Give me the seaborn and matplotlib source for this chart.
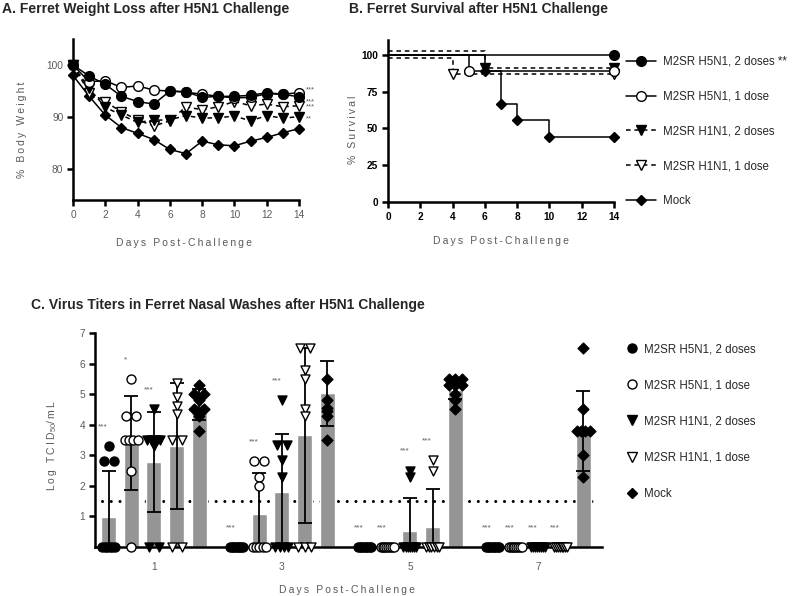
import numpy as np
import pandas as pd
import matplotlib
matplotlib.use('Agg')
import matplotlib.pyplot as plt
import matplotlib.transforms as mtransforms
from matplotlib.lines import Line2D
import seaborn as sns
import warnings
warnings.filterwarnings('ignore')

sns.set_theme(style='ticks')
plt.rcParams['font.family'] = ['Liberation Sans', 'DejaVu Sans']
plt.rcParams['mathtext.fontset'] = 'custom'
plt.rcParams['mathtext.rm'] = 'Liberation Sans'
plt.rcParams['mathtext.it'] = 'Liberation Sans:italic'

# ---- data -------------------------------------------------------------
groups = ['M2SR H5N1, 2 doses', 'M2SR H5N1, 1 dose', 'M2SR H1N1, 2 doses',
          'M2SR H1N1, 1 dose', 'Mock']

# A. body weight (%)
weight_days = [0, 1, 2, 3, 4, 5, 6, 7, 8, 9, 10, 11, 12, 13, 14]
weight_h5_2 = [100, 97.9, 96.3, 94.0, 93.0, 92.5, 95.0, 94.9, 93.8, 94.0, 94.0, 94.2, 94.7, 94.4, 93.9]
weight_h5_1 = [100, 96.8, 97.0, 95.7, 96.0, 95.2, 95.0, 94.8, 94.4, 94.0, 93.7, 93.8, 94.5, 94.4, 94.7]
weight_h1_2 = [100, 95.5, 91.9, 90.4, 89.0, 89.4, 89.5, 90.3, 89.8, 89.9, 90.2, 89.3, 90.3, 89.8, 90.1]
weight_h1_1 = [100, 94.7, 93.0, 91.0, 89.5, 88.3, 89.3, 92.0, 91.4, 92.0, 93.0, 92.2, 92.5, 92.0, 92.2]
weight_mock = [98.0, 94.0, 90.4, 88.0, 86.9, 85.7, 83.8, 83.0, 85.4, 84.7, 84.5, 85.4, 86.1, 87.0, 87.8]
weight_stars = ['***', '***', '**', '***', '']

# B. survival (%), Kaplan-Meier steps
surv_days_h5_2 = [0, 14]
surv_h5_2 = [100, 100]
surv_days_h5_1 = [0, 5, 14]
surv_h5_1 = [100, 88.9, 88.9]
surv_days_h1_2 = [0, 6, 14]
surv_h1_2 = [100, 88.9, 88.9]
surv_days_h1_1 = [0, 4, 14]
surv_h1_1 = [100, 88.9, 88.9]
surv_days_mock = [0, 6, 7, 8, 10, 14]
surv_mock = [100, 88.9, 66.7, 55.6, 44.4, 44.4]

# C. nasal wash titers (log TCID50/mL) on days 1, 3, 5, 7
titer_days = ['1', '3', '5', '7']
titer_h5_2 = [[3.3, 2.8, 2.8, 0, 0, 0, 0, 0, 0],
              [0, 0, 0, 0, 0, 0, 0, 0, 0],
              [0, 0, 0, 0, 0, 0, 0, 0, 0],
              [0, 0, 0, 0, 0, 0, 0, 0, 0]]
titer_h5_1 = [[5.5, 4.3, 4.3, 3.5, 3.5, 3.5, 3.5, 2.5, 0],
              [2.8, 2.8, 2.3, 2.0, 0, 0, 0, 0, 0],
              [0, 0, 0, 0, 0, 0, 0, 0],
              [0, 0, 0, 0, 0, 0, 0, 0]]
titer_h1_2 = [[4.5, 3.5, 3.5, 3.5, 3.5, 3.5, 3.3, 0, 0],
              [4.8, 3.35, 3.35, 2.85, 2.3, 0, 0, 0, 0],
              [2.5, 2.3, 0, 0, 0, 0, 0, 0, 0],
              [0, 0, 0, 0, 0, 0, 0, 0]]
titer_h1_1 = [[5.35, 4.9, 4.6, 4.35, 3.5, 3.5, 0, 0],
              [6.5, 6.5, 5.8, 5.5, 4.5, 4.3, 0, 0, 0],
              [2.85, 2.5, 0, 0, 0, 0, 0, 0],
              [0, 0, 0, 0, 0, 0, 0, 0]]
titer_mock = [[5.3, 5.0, 5.0, 4.8, 4.5, 4.5, 4.3, 3.8],
              [5.5, 4.8, 4.55, 4.45, 4.3, 3.5],
              [5.5, 5.5, 5.5, 5.3, 5.3, 5.3, 5.0, 4.8, 4.5],
              [6.5, 4.5, 3.8, 3.8, 3.8, 3.8, 3.0, 2.3]]
# bar heights (mean) and error bars (SD) as drawn
titer_mean = [[0.97, 0, 0, 0], [3.4, 1.08, 0, 0], [2.79, 1.81, 0.52, 0],
              [3.3, 3.66, 0.66, 0], [4.67, 5.03, 5.15, 3.8]]
titer_sd = [[1.5, 0, 0, 0], [1.53, 1.33, 0, 0], [1.63, 1.88, 1.07, 0],
            [2.05, 2.86, 1.25, 0], [0.5, 1.07, 0.3, 1.3]]
titer_stars = [['***', '***', '***', '***'], ['*', '***', '***', '***'],
               ['***', '***', '***', '***'], ['', '', '***', '***'],
               ['', '', '', '']]
detection_limit = 1.5

# ---- styles -------------------------------------------------------------
mk = ['o', 'o', 'v', 'v', 'D']
face = ['black', 'white', 'black', 'white', 'black']
dash = (0, (3, 2.5))
lstyle = ['-', '-', dash, dash, '-']
msA = [7, 7, 7.5, 7.5, 5]
star_nudgeA = [-3.5, 2.0, -1.5, -1.0, 0]
grey = '#5a5a5a'
SP = '\u2009'


def spaced(s):
    return SP.join(s)


def style_axis(ax, labelcolor):
    sns.despine(ax=ax)
    for side in ['left', 'bottom']:
        ax.spines[side].set_linewidth(1.8)
        ax.spines[side].set_color('black')
    ax.tick_params(direction='out', length=4, width=1.8, color='black',
                   labelsize=7.3, labelcolor=labelcolor, pad=3)


fig = plt.figure(figsize=(8, 5.96), dpi=100)

# ---- A. weight ---------------------------------------------------------
axA = fig.add_axes([73 / 800, 1 - 200 / 596, 226 / 800, 161 / 596])
weights = [weight_h5_2, weight_h5_1, weight_h1_2, weight_h1_1, weight_mock]
for i in [4, 3, 2, 1, 0]:
    sns.lineplot(x=weight_days, y=weights[i], ax=axA, color='black', lw=1.1,
                 linestyle=lstyle[i], marker=mk[i], markersize=msA[i],
                 markerfacecolor=face[i], markeredgecolor='black',
                 markeredgewidth=1.0, errorbar=None, clip_on=False)
for i, star in enumerate(weight_stars):
    if star:
        axA.annotate(star, (weight_days[-1], weights[i][-1]), xytext=(5, star_nudgeA[i]),
                     textcoords='offset points', ha='left', va='center',
                     fontsize=5.5, color=grey, annotation_clip=False)
axA.set_xlim(0, 14)
axA.set_ylim(74.1, 105)
axA.set_xticks(range(0, 15, 2))
axA.set_yticks([80, 90, 100])
style_axis(axA, grey)
axA.set_xlabel(spaced('Days Post-Challenge'), fontsize=7.5, color=grey)
axA.set_ylabel(spaced('% Body Weight'), fontsize=7.5, color=grey)
axA.xaxis.set_label_coords(0.493, -0.236)
axA.yaxis.set_label_coords(-0.204, 0.435)

# ---- B. survival -------------------------------------------------------
axB = fig.add_axes([388 / 800, 1 - 202 / 596, 226 / 800, 162 / 596])
surv_days = [surv_days_h5_2, surv_days_h5_1, surv_days_h1_2, surv_days_h1_1, surv_days_mock]
survs = [surv_h5_2, surv_h5_1, surv_h1_2, surv_h1_1, surv_mock]
nudge = [0, 0, 2.4, -2.4, 0]
for i in [4, 3, 2, 1, 0]:
    sns.lineplot(x=surv_days[i], y=survs[i], ax=axB, color='black', lw=1.1,
                 linestyle=lstyle[i], drawstyle='steps-post',
                 marker=mk[i], markersize=msA[i], markevery=slice(1, None),
                 markerfacecolor=face[i], markeredgecolor='black',
                 markeredgewidth=1.0, errorbar=None, clip_on=False)
    if nudge[i]:
        axB.lines[-1].set_transform(
            axB.transData + mtransforms.ScaledTranslation(0, nudge[i] / 72, fig.dpi_scale_trans))
axB.set_xlim(0, 14)
axB.set_ylim(0, 110)
axB.set_xticks(range(0, 15, 2))
axB.set_yticks([0, 25, 50, 75, 100])
style_axis(axB, 'black')
for lab in axB.get_xticklabels() + axB.get_yticklabels():
    lab.set_fontweight('bold')
axB.set_xlabel(spaced('Days Post-Challenge'), fontsize=7.5, color=grey)
axB.set_ylabel(spaced('% Survival'), fontsize=7.5, color=grey)
axB.xaxis.set_label_coords(0.5, -0.21)
axB.yaxis.set_label_coords(-0.133, 0.444)

legB = [Line2D([], [], color='black', lw=1.1, linestyle=lstyle[i], marker=mk[i],
               markersize=msA[i], markerfacecolor=face[i], markeredgecolor='black')
        for i in range(5)]
labelsB = [groups[0] + ' **'] + groups[1:]
fig.legend(legB, labelsB, loc='upper left', bbox_to_anchor=(626 / 800, 1 - 56 / 596),
           frameon=False, fontsize=8.3, handlelength=2.6, handletextpad=0.65,
           labelspacing=1.97, borderpad=0, borderaxespad=0)

# ---- C. titers ---------------------------------------------------------
axC = fig.add_axes([95 / 800, 1 - 547 / 596, 507 / 800, 214 / 596])
titers = [titer_h5_2, titer_h5_1, titer_h1_2, titer_h1_1, titer_mock]
bars = pd.DataFrame([(titer_days[j], groups[i], titer_mean[i][j])
                     for i in range(5) for j in range(4)],
                    columns=['day', 'group', 'mean'])
axC.axhline(detection_limit, xmin=0.013, xmax=0.984, color='black', lw=2.2,
            linestyle=(0, (0.01, 2.85)), dash_capstyle='round', zorder=0.5)
sns.barplot(data=bars, x='day', y='mean', hue='group', order=titer_days,
            hue_order=groups, palette=['#959595'] * 5, saturation=1,
            width=0.885, gap=0.34, errorbar=None, legend=False, ax=axC, zorder=1)

# bar centres from the containers seaborn drew
centres = {}
for i, cont in enumerate(axC.containers):
    for bar in cont:
        cx = bar.get_x() + bar.get_width() / 2
        centres[(i, int(round(cx)))] = cx


def spread(vals, step=0.078, half=0.051):
    vals = np.asarray(vals, float)
    offs = np.zeros(len(vals))
    for v in np.unique(vals):
        idx = np.where(vals == v)[0]
        k = len(idx)
        if k > 1:
            st = min(step, 2 * half / (k - 1))
            offs[idx] = (np.arange(k) - (k - 1) / 2) * st
    return offs


for i in range(5):
    for j in range(4):
        cx = centres[(i, j)]
        if titer_sd[i][j] > 0:
            axC.errorbar(cx, titer_mean[i][j], yerr=titer_sd[i][j], fmt='none',
                         ecolor='black', elinewidth=1.3, capsize=5, capthick=1.3, zorder=3)
        vals = titers[i][j]
        sns.scatterplot(x=cx + spread(vals), y=vals, ax=axC, marker=mk[i],
                        color=face[i], edgecolor='black', linewidth=1.0,
                        s=30 if mk[i] == 'D' else 42, zorder=4, clip_on=False, legend=False)
        if titer_stars[i][j]:
            axC.annotate(titer_stars[i][j], (cx, max(vals) + 0.7), xytext=(-4, -1.5),
                         textcoords='offset points', ha='center', va='center',
                         fontsize=6, color=grey)

axC.set_xlim(-0.46, 3.5)
axC.set_ylim(0, 7)
axC.set_yticks([1, 2, 3, 4, 5, 6, 7])
style_axis(axC, grey)
axC.tick_params(axis='x', length=0, pad=11)
axC.set_xlabel(spaced('Days Post-Challenge'), fontsize=7.5, color=grey)
axC.set_ylabel(spaced('Log TCID') + '$_{50}$' + spaced('/mL'), fontsize=7.5, color=grey)
axC.xaxis.set_label_coords(0.497, -0.178)
axC.yaxis.set_label_coords(-0.071, 0.472)

legC = [Line2D([], [], linestyle='none', marker=mk[i], markersize=6.5 if mk[i] != 'D' else 5,
               markerfacecolor=face[i], markeredgecolor='black') for i in range(5)]
fig.legend(legC, groups, loc='upper left', bbox_to_anchor=(626 / 800, 1 - 343 / 596),
           frameon=False, fontsize=8.3, handlelength=1.0, handletextpad=0.6,
           labelspacing=2.1, borderpad=0, borderaxespad=0)

# ---- titles --------------------------------------------------------------
fig.text(2 / 800, 1 - 9 / 596, 'A. Ferret Weight Loss after H5N1 Challenge',
         fontsize=10, fontweight='bold', va='center', ha='left')
fig.text(349 / 800, 1 - 9 / 596, 'B. Ferret Survival after H5N1 Challenge',
         fontsize=10, fontweight='bold', va='center', ha='left')
fig.text(31 / 800, 1 - 305 / 596, 'C. Virus Titers in Ferret Nasal Washes after H5N1 Challenge',
         fontsize=10, fontweight='bold', va='center', ha='left')

fig.savefig('out.png', dpi=100)
